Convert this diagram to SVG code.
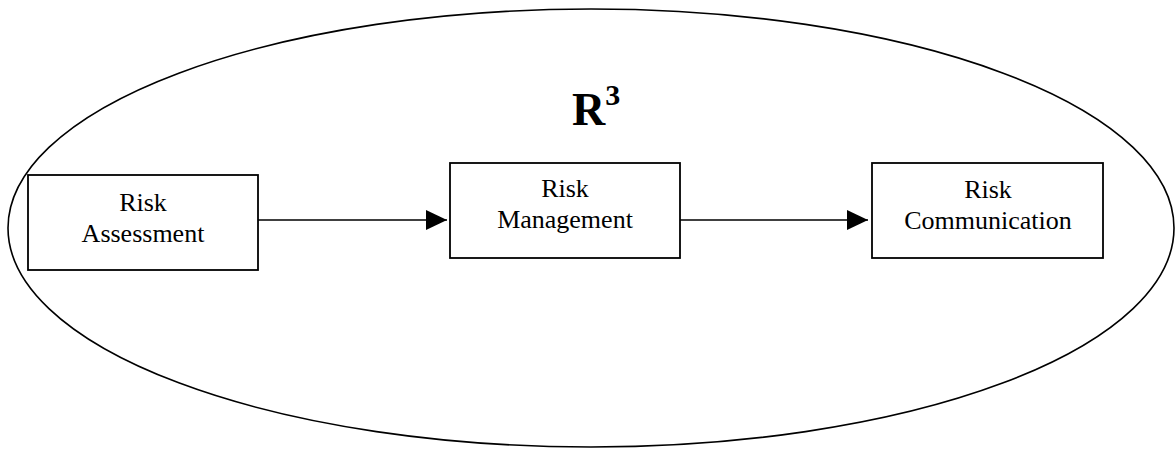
<svg xmlns="http://www.w3.org/2000/svg" width="1175" height="449" viewBox="0 0 1175 449">
  <style>
    .boundary { fill: none; stroke: #000; stroke-width: 1.6; }
    .box { fill: #fff; stroke: #000; stroke-width: 1.8; }
    .label { font-family: "Liberation Serif", "Times New Roman", serif; font-size: 26px; fill: #000; text-anchor: middle; }
    .title { font-family: "Liberation Serif", "Times New Roman", serif; font-weight: bold; fill: #000; }
    .link { stroke: #000; stroke-width: 1.6; fill: none; marker-end: url(#head); }
  </style>
  <defs>
    <marker id="head" markerUnits="userSpaceOnUse" markerWidth="21" markerHeight="20" refX="21" refY="10" orient="auto">
      <path d="M0,0 L21,10 L0,20 Z" fill="#000"/>
    </marker>
  </defs>

  <rect width="1175" height="449" fill="#fff"/>

  <!-- enclosing R3 boundary -->
  <g id="r3-boundary">
    <ellipse class="boundary" cx="591" cy="228" rx="583" ry="219"/>
    <text class="title" x="572" y="125" font-size="46">R<tspan font-size="30" dy="-20">3</tspan></text>
  </g>

  <!-- flow connectors -->
  <g id="connectors">
    <line class="link" x1="258" y1="220" x2="447" y2="220"/>
    <line class="link" x1="680" y1="220" x2="868" y2="220"/>
  </g>

  <g id="risk-assessment">
    <rect class="box" x="28" y="175" width="230" height="95"/>
    <text class="label" x="143" y="211">Risk</text>
    <text class="label" x="143" y="242">Assessment</text>
  </g>

  <g id="risk-management">
    <rect class="box" x="450" y="163" width="230" height="95"/>
    <text class="label" x="565" y="197">Risk</text>
    <text class="label" x="565" y="228">Management</text>
  </g>

  <g id="risk-communication">
    <rect class="box" x="872" y="163" width="231" height="95"/>
    <text class="label" x="988" y="198">Risk</text>
    <text class="label" x="988" y="229">Communication</text>
  </g>
</svg>
